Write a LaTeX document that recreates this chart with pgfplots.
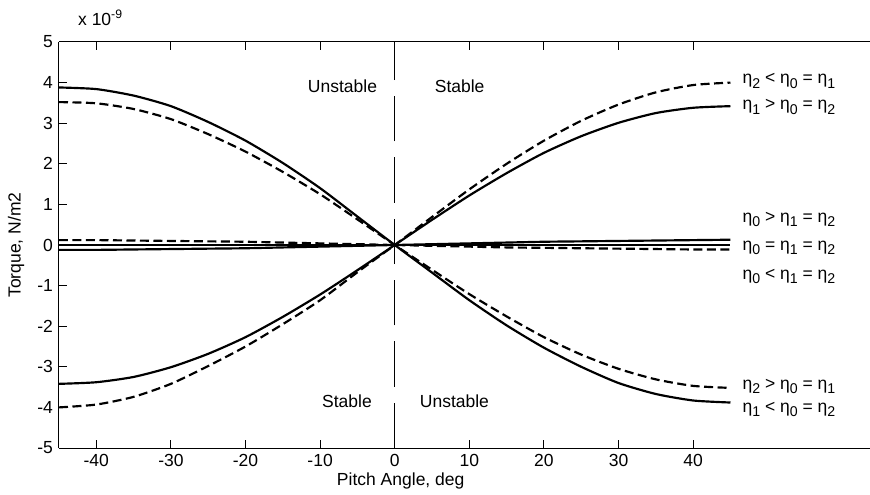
\documentclass[border=0pt]{standalone}
\usepackage{fontspec}
\setmainfont{Liberation Sans}
\usepackage{pgfplots}
\pgfplotsset{compat=1.18}
\usepackage{pgfplotstable}

% torque curves, units of 1e-9 N/m2
\pgfplotstableread{
x    A      B     C      D      E      F
-45 -3.42  3.88  3.52  -4.00  -0.12  0.12
-40 -3.38  3.84  3.49  -3.93  -0.12  0.12
-35 -3.25  3.68  3.35  -3.74  -0.11  0.11
-30 -3.01  3.42  3.10  -3.42  -0.10  0.10
-25 -2.68  3.03  2.73  -2.98  -0.09  0.09
-20 -2.27  2.57  2.30  -2.50  -0.08  0.08
-15 -1.77  2.02  1.80  -1.95  -0.06  0.06
-10 -1.22  1.40  1.25  -1.36  -0.04  0.04
-5  -0.62  0.70  0.63  -0.67  -0.02  0.02
0    0.00  0.00  0.00   0.00   0.00  0.00
5    0.62 -0.68 -0.61   0.69   0.02 -0.02
10   1.22 -1.36 -1.21   1.37   0.04 -0.04
15   1.77 -1.98 -1.76   2.00   0.06 -0.06
20   2.27 -2.53 -2.27   2.57   0.08 -0.07
25   2.68 -3.00 -2.70   3.06   0.09 -0.08
30   3.01 -3.40 -3.05   3.46   0.10 -0.09
35   3.25 -3.67 -3.31   3.76   0.11 -0.10
40   3.38 -3.83 -3.47   3.94   0.12 -0.11
45   3.42 -3.88 -3.52   4.00   0.13 -0.11
}\torque

\newcommand\sub[1]{\raisebox{-0.45ex}{\fontsize{8.5}{9}\selectfont #1}}

\begin{document}
\fontsize{10.5}{12.6}\selectfont
\begin{tikzpicture}
\begin{axis}[
  width=486.6pt, height=243.6pt, scale only axis,
  xmin=-45, xmax=63.7, ymin=-5, ymax=5,
  xtick={-40,-30,...,40}, ytick={-5,-4,...,5},
  axis x line*=box, axis y line*=left,
  tick align=inside, major tick length=4.6pt,
  tick style={black, line width=0.6pt},
  axis line style={black, line width=0.6pt},
  /pgf/number format/assume math mode=true,
  scaled y ticks=false,
  clip=false,
  cycle list={{black}},
  no markers,
  curve/.style={black, line width=1.3pt, smooth, tension=0.4, solid},
  dashcurve/.style={curve, dash pattern=on 5.4pt off 2.7pt},
]
\addplot[black, line width=0.6pt, dash pattern=on 27.2pt off 9.6pt] coordinates {(0,-5) (0,5)};

\addplot[curve] table[x=x, y=A] {\torque};
\addplot[curve] table[x=x, y=B] {\torque};
\addplot[dashcurve] table[x=x, y=C] {\torque};
\addplot[dashcurve] table[x=x, y=D] {\torque};
\addplot[curve] table[x=x, y=E] {\torque};
\addplot[dashcurve] table[x=x, y=F] {\torque};
\addplot[black, line width=1.3pt] coordinates {(-45,0) (45,0)};

\node[anchor=west, xshift=3.6pt] at (axis cs:45,4.04) {η\sub{2} < η\sub{0} = η\sub{1}};
\node[anchor=west, xshift=3.6pt] at (axis cs:45,3.40) {η\sub{1} > η\sub{0} = η\sub{2}};
\node[anchor=west, xshift=3.6pt] at (axis cs:45,0.62) {η\sub{0} > η\sub{1} = η\sub{2}};
\node[anchor=west, xshift=3.6pt] at (axis cs:45,-0.08) {η\sub{0} = η\sub{1} = η\sub{2}};
\node[anchor=west, xshift=3.6pt] at (axis cs:45,-0.78) {η\sub{0} < η\sub{1} = η\sub{2}};
\node[anchor=west, xshift=3.6pt] at (axis cs:45,-3.49) {η\sub{2} > η\sub{0} = η\sub{1}};
\node[anchor=west, xshift=3.6pt] at (axis cs:45,-4.06) {η\sub{1} < η\sub{0} = η\sub{2}};

\node at (axis cs:-7.0,3.9) {Unstable};
\node at (axis cs:8.7,3.9) {Stable};
\node at (axis cs:-6.4,-3.86) {Stable};
\node at (axis cs:8.0,-3.86) {Unstable};

\node[anchor=base west] at ([xshift=7.8pt, yshift=10pt]rel axis cs:0,1) {x 10\textsuperscript{-9}};
\node[rotate=90] at ([xshift=-25.8pt]rel axis cs:0,0.5) {Torque, N/m2};
\node at ([yshift=-19.8pt]axis cs:0.8,-5) {Pitch Angle, deg};
\end{axis}
\pgfresetboundingbox
\path ([shift={(-35.4pt,-27.6pt)}]current axis.south west) rectangle ([shift={(0pt,25.2pt)}]current axis.north east);
\end{tikzpicture}
\end{document}
